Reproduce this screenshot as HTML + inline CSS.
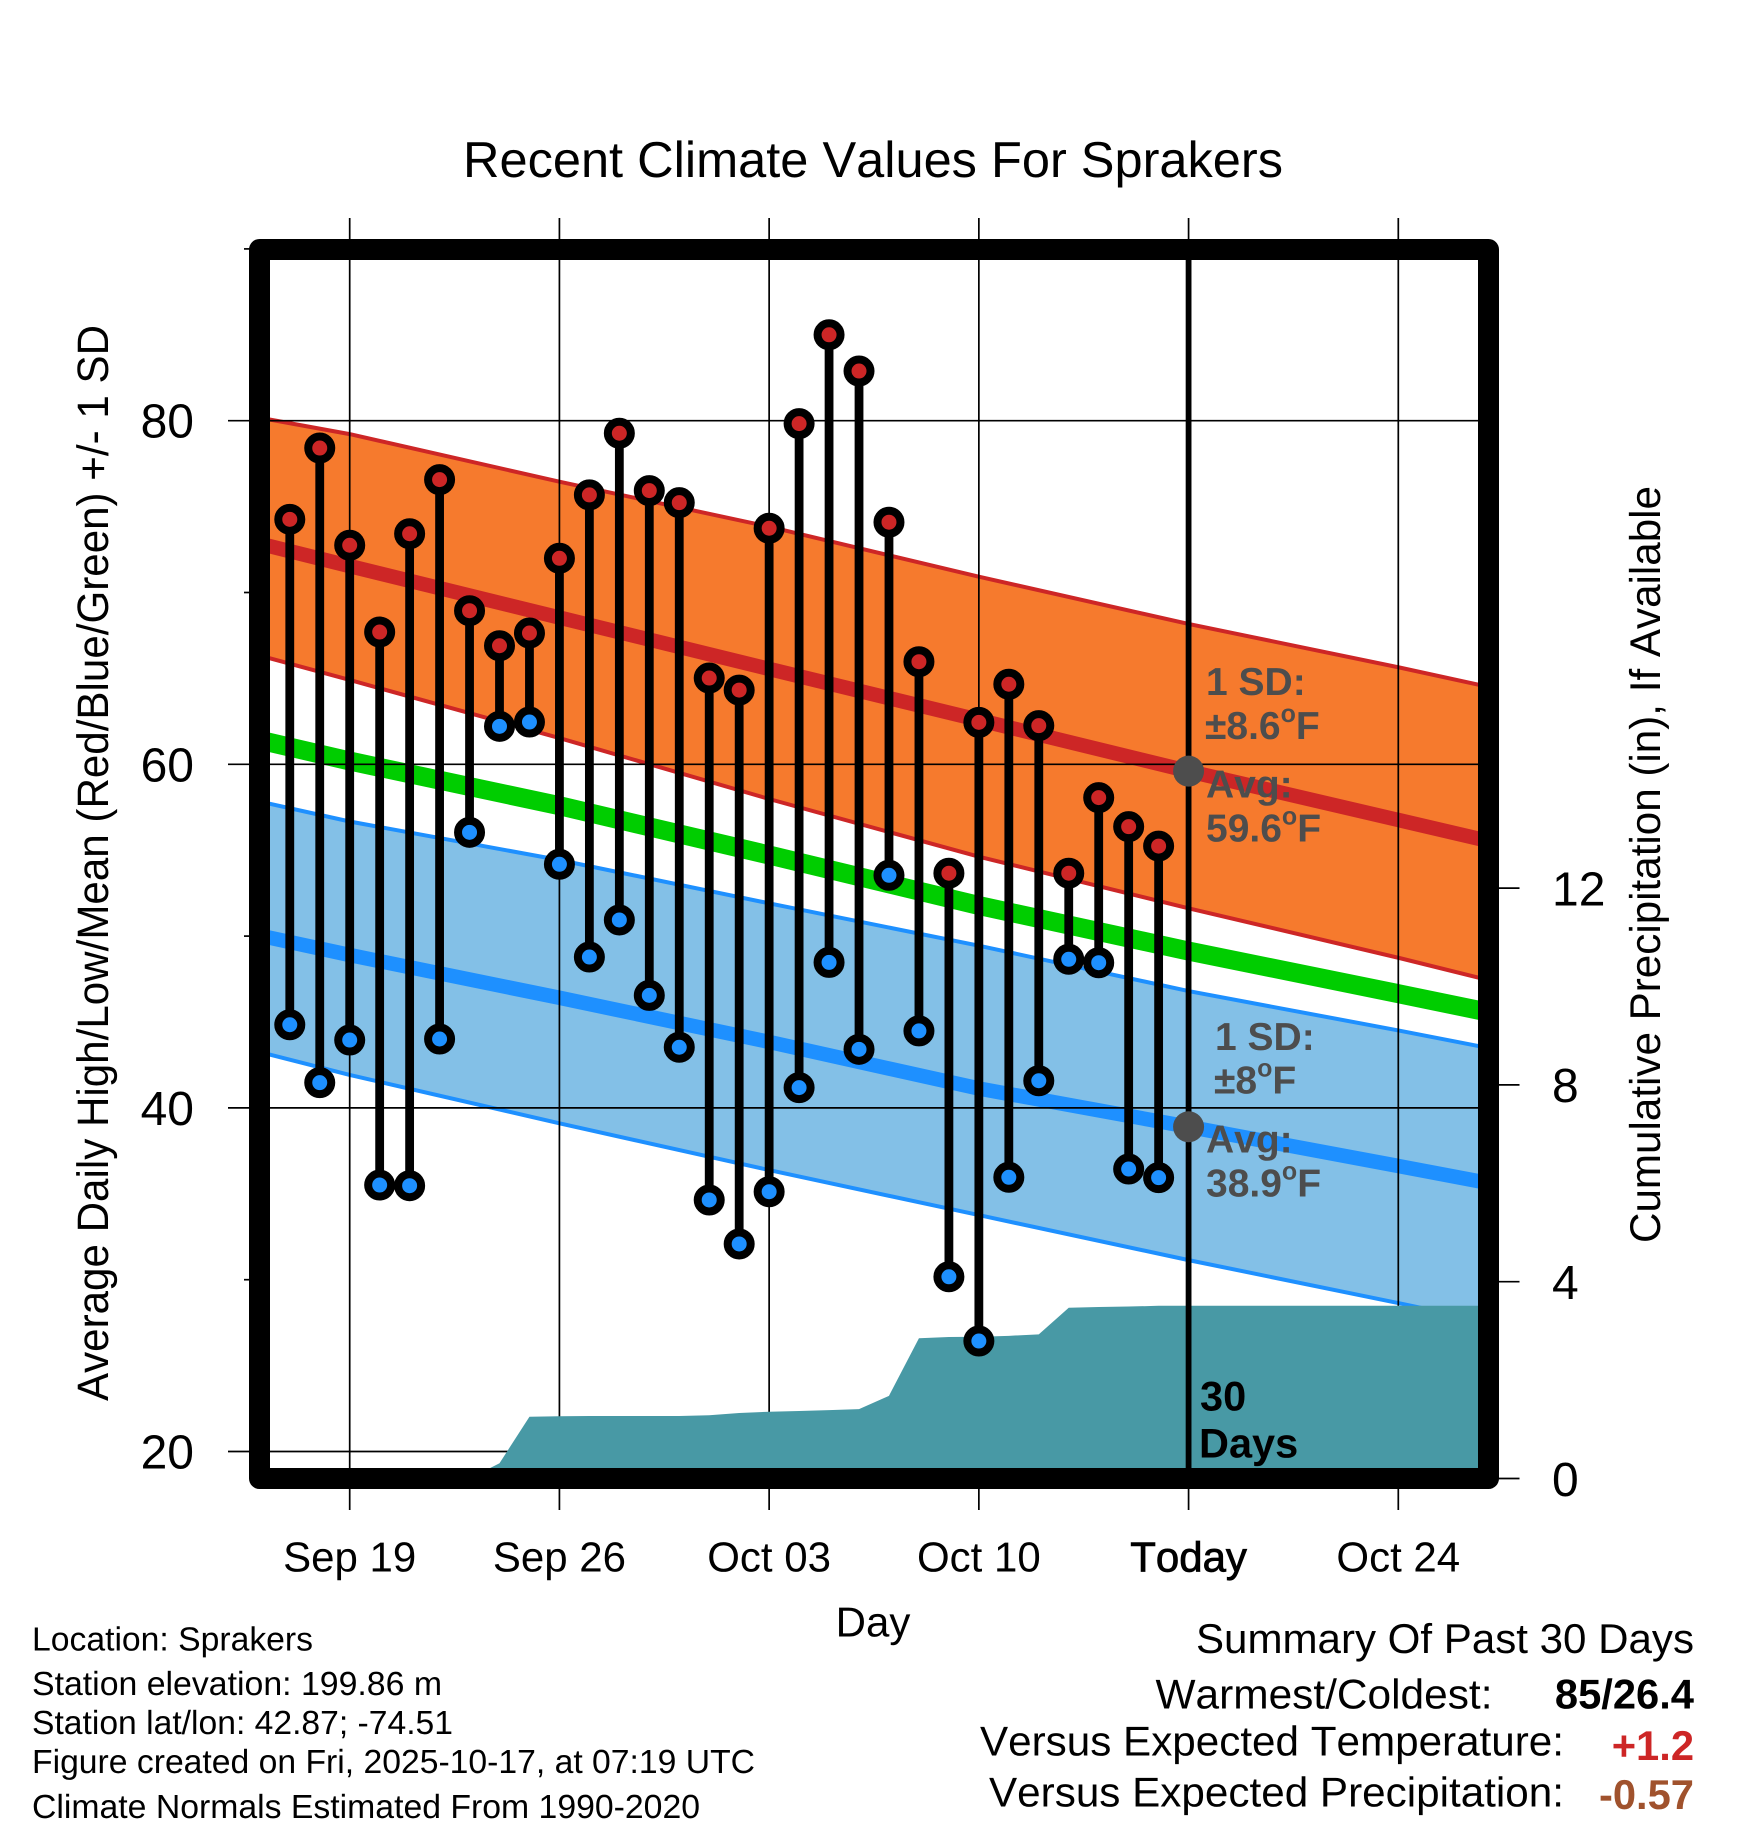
<!DOCTYPE html>
<html lang="en">
<head>
<meta charset="utf-8">
<title>Recent Climate Values For Sprakers</title>
<style>
html,body{margin:0;padding:0;background:#fff;width:1748px;height:1828px;overflow:hidden}
svg{display:block;text-rendering:geometricPrecision}
text{font-family:"Liberation Sans",Arial,sans-serif;fill:#000;font-kerning:none}
.anno{font-weight:bold;font-size:39px;fill:#4d4d4d}
.foot{font-size:33.4px}
.sum{font-size:41.7px}
</style>
</head>
<body>
<svg id="chart" xmlns="http://www.w3.org/2000/svg" width="1748" height="1828" viewBox="0 0 1748 1828">
  <rect x="0" y="0" width="1748" height="1828" fill="#ffffff"/>
  <g id="plot"></g>

  <text x="463" y="177" font-size="50.5" textLength="820" lengthAdjust="spacingAndGlyphs">Recent Climate Values For Sprakers</text>
  <text x="873" y="1636.5" font-size="42" text-anchor="middle">Day</text>
  <text transform="translate(108,1401) rotate(-90)" font-size="44" textLength="1076" lengthAdjust="spacingAndGlyphs">Average Daily High/Low/Mean (Red/Blue/Green) +/- 1 SD</text>
  <text transform="translate(1660,1243) rotate(-90)" font-size="43" textLength="757" lengthAdjust="spacingAndGlyphs">Cumulative Precipitation (in), If Available</text>

  <text class="anno" x="1206" y="695">1 SD:</text>
  <text class="anno" x="1205" y="739">±8.6<tspan font-size="25" dy="-17">o</tspan><tspan dy="17">F</tspan></text>
  <text class="anno" x="1206" y="797.5">Avg:</text>
  <text class="anno" x="1206" y="841.5">59.6<tspan font-size="25" dy="-17">o</tspan><tspan dy="17">F</tspan></text>
  <text class="anno" x="1215" y="1050">1 SD:</text>
  <text class="anno" x="1214" y="1093.5">±8<tspan font-size="25" dy="-17">o</tspan><tspan dy="17">F</tspan></text>
  <text class="anno" x="1206" y="1152.5">Avg:</text>
  <text class="anno" x="1206" y="1196.5">38.9<tspan font-size="25" dy="-17">o</tspan><tspan dy="17">F</tspan></text>
  <text x="1200" y="1410.5" font-size="41.5" font-weight="bold">30</text>
  <text x="1199" y="1457.5" font-size="41.5" font-weight="bold">Days</text>

  <text class="foot" x="32" y="1650.5" textLength="281" lengthAdjust="spacingAndGlyphs">Location: Sprakers</text>
  <text class="foot" x="32" y="1695" textLength="410" lengthAdjust="spacingAndGlyphs">Station elevation: 199.86 m</text>
  <text class="foot" x="32" y="1734" textLength="421" lengthAdjust="spacingAndGlyphs">Station lat/lon: 42.87; -74.51</text>
  <text class="foot" x="32" y="1773" textLength="723" lengthAdjust="spacingAndGlyphs">Figure created on Fri, 2025-10-17, at 07:19 UTC</text>
  <text class="foot" x="32" y="1818" textLength="668" lengthAdjust="spacingAndGlyphs">Climate Normals Estimated From 1990-2020</text>

  <text class="sum" x="1196" y="1653" textLength="498" lengthAdjust="spacingAndGlyphs">Summary Of Past 30 Days</text>
  <text class="sum" x="1155.5" y="1708.5" textLength="337" lengthAdjust="spacingAndGlyphs">Warmest/Coldest:</text>
  <text class="sum" x="1694" y="1708.5" text-anchor="end" font-weight="bold">85/26.4</text>
  <text class="sum" x="980" y="1755.5" textLength="584" lengthAdjust="spacingAndGlyphs">Versus Expected Temperature:</text>
  <text class="sum" x="1694" y="1760" text-anchor="end" font-weight="bold" style="fill:#cd2626">+1.2</text>
  <text class="sum" x="989" y="1806.5" textLength="575" lengthAdjust="spacingAndGlyphs">Versus Expected Precipitation:</text>
  <text class="sum" x="1694" y="1809" text-anchor="end" font-weight="bold" style="fill:#a0522d">-0.57</text>
</svg>
<script>
// ---- data ----
const obsDates = ['Sep 17','Sep 18','Sep 19','Sep 20','Sep 21','Sep 22','Sep 23','Sep 24','Sep 25','Sep 26','Sep 27','Sep 28','Sep 29','Sep 30','Oct 01','Oct 02','Oct 03','Oct 04','Oct 05','Oct 06','Oct 07','Oct 08','Oct 09','Oct 10','Oct 11','Oct 12','Oct 13','Oct 14','Oct 15','Oct 16'];
const dailyHigh = [74.26,78.41,72.75,67.70,73.42,76.57,68.94,66.90,67.64,71.99,75.68,79.27,75.93,75.23,65.02,64.32,73.74,79.83,85.0,82.89,74.09,65.97,53.66,62.44,64.66,62.25,53.66,58.06,56.37,55.24];
const dailyLow = [44.84,41.47,43.95,35.51,35.47,44.01,56.04,62.21,62.46,54.18,48.78,50.94,46.55,43.53,34.64,32.08,35.12,41.18,48.47,43.41,53.54,44.48,30.17,26.43,35.96,41.58,48.65,48.45,36.44,35.94];
const cumulativePrecip = [0,0,0,0,0,0,0,0.31,1.256,1.264,1.27,1.27,1.27,1.27,1.285,1.33,1.358,1.372,1.39,1.41,1.68,2.85,2.875,2.88,2.90,2.93,3.47,3.485,3.495,3.51];

const normalDates = ['Sep 16','Sep 19','Sep 26','Oct 03','Oct 10','Oct 17','Oct 24','Oct 27'];
const highPlusSd = [80.17,79.22,76.45,73.83,70.92,68.17,65.65,64.51];
const highNormal = [72.84,71.54,68.54,65.55,62.58,59.6,56.76,55.54];
const highMinusSd = [66.33,64.91,61.53,57.98,54.62,51.62,48.74,47.44];
const meanNormal = [61.41,60.19,57.59,54.72,51.78,49.13,46.65,45.57];
const lowPlusSd = [57.83,56.67,54.43,51.91,49.44,46.8,44.51,43.49];
const lowNormal = [50.03,48.9,46.41,43.84,41.13,38.9,36.62,35.63];
const lowMinusSd = [43.25,41.92,39.1,36.38,33.76,31.14,28.64,27.54];

const todayDate = 'Oct 17';
const todayHighAvg = 59.6;
const todayLowAvg = 38.9;
const axisEndDate = 'Oct 27';

const xTickDates = ['Sep 19','Sep 26','Oct 03','Oct 10','Oct 17','Oct 24'];
const xTickLabels = ['Sep 19','Sep 26','Oct 03','Oct 10','Today','Oct 24'];
const yMajorTicks = [80,60,40,20];
const yMinorTicks = [90,70,50,30];
const precipTicks = [12,8,4,0];

// ---- axis functions ----
function dayNumber(s){
  const parts = s.split(' ');
  const d = parseInt(parts[1],10);
  return parts[0] === 'Sep' ? d - 19 : d + 11;
}
function xScale(dateStr){ return 349.7 + 29.96 * dayNumber(dateStr); }
function yTemp(v){ return 420.7 + (80 - v) * 17.18; }
function yPrecip(p){ return 1478.5 - p * 49.2; }

const NS = 'http://www.w3.org/2000/svg';
const plot = document.getElementById('plot');
function make(tag, attrs, text){
  const el = document.createElementNS(NS, tag);
  for (const k in attrs) el.setAttribute(k, attrs[k]);
  if (text !== undefined) el.textContent = text;
  plot.appendChild(el);
  return el;
}
function pts(dates, values){
  return dates.map((d,i)=>xScale(d).toFixed(2)+','+yTemp(values[i]).toFixed(2));
}
function bandPoints(upper, lower){
  return pts(normalDates, upper).concat(pts(normalDates, lower).reverse()).join(' ');
}
function linePoints(values){ return pts(normalDates, values).join(' '); }

// ---- bands ----
let el;
el = make('polygon',{points:bandPoints(highPlusSd,highMinusSd),fill:'#f67a2d'});


el = make('polygon',{points:bandPoints(lowPlusSd,lowMinusSd),fill:'#83c0e7'});



el = make('polyline',{points:linePoints(highPlusSd),fill:'none',stroke:'#cd2626','stroke-width':4});


el = make('polyline',{points:linePoints(highMinusSd),fill:'none',stroke:'#cd2626','stroke-width':4});


el = make('polyline',{points:linePoints(lowPlusSd),fill:'none',stroke:'#1e90ff','stroke-width':4});


el = make('polyline',{points:linePoints(lowMinusSd),fill:'none',stroke:'#1e90ff','stroke-width':4});



// ---- normal lines ----
el = make('polyline',{points:linePoints(highNormal),fill:'none',stroke:'#cd2626','stroke-width':14.5});


el = make('polyline',{points:linePoints(meanNormal),fill:'none',stroke:'#00cd00','stroke-width':19});


el = make('polyline',{points:linePoints(lowNormal),fill:'none',stroke:'#1e90ff','stroke-width':14.5});



// ---- grid and ticks ----
xTickDates.forEach((d,i)=>{
  const x = xScale(d);
  const g = make('line',{x1:x,x2:x,y1:218,y2:1510,stroke:'#000','stroke-width':1.7});
  
  
  const t = make('text',{x:x,y:1571.5,'font-size':42,'text-anchor':'middle'},xTickLabels[i]);
  
  
  if (xTickLabels[i] === 'Today') { t.setAttribute('stroke','#000'); t.setAttribute('stroke-width','0.8'); }
});
yMajorTicks.forEach(v=>{
  const y = yTemp(v);
  const g = make('line',{x1:228,x2:1478,y1:y,y2:y,stroke:'#000','stroke-width':1.7});
  
  
  const t = make('text',{x:194,y:y+17,'font-size':48,'text-anchor':'end'},String(v));
  
  
});
yMinorTicks.forEach(v=>{
  const y = yTemp(v);
  const g = make('line',{x1:244,x2:252,y1:y,y2:y,stroke:'#000','stroke-width':1.7});
  
  
});
precipTicks.forEach(p=>{
  const y = yPrecip(p);
  const g = make('line',{x1:1496,x2:1519.5,y1:y,y2:y,stroke:'#000','stroke-width':1.7});
  
  
  const t = make('text',{x:1552,y:y+17.3,'font-size':48},String(p));
  
  
});

// ---- cumulative precipitation ----
const precipPts = obsDates.map((d,i)=>xScale(d).toFixed(2)+','+yPrecip(cumulativePrecip[i]).toFixed(2));
precipPts.push(xScale(axisEndDate).toFixed(2)+','+yPrecip(cumulativePrecip[cumulativePrecip.length-1]).toFixed(2));
precipPts.push(xScale(axisEndDate).toFixed(2)+','+yPrecip(0).toFixed(2));
precipPts.push(xScale(obsDates[0]).toFixed(2)+','+yPrecip(0).toFixed(2));
el = make('polygon',{points:precipPts.join(' '),fill:'#4899a5'});



// ---- today line ----
el = make('line',{x1:xScale(todayDate),x2:xScale(todayDate),y1:250,y2:1478,stroke:'#000','stroke-width':5.8});



// ---- daily stems ----
obsDates.forEach((d,i)=>{
  const x = xScale(d);
  const yH = yTemp(dailyHigh[i]);
  const yL = yTemp(dailyLow[i]);
  const s = make('line',{x1:x,x2:x,y1:yH,y2:yL,stroke:'#000','stroke-width':8.8});
  
  
  const h = make('circle',{cx:x,cy:yH,r:11.5,fill:'#cd2626',stroke:'#000','stroke-width':8});
  
  
  const l = make('circle',{cx:x,cy:yL,r:11.5,fill:'#1e90ff',stroke:'#000','stroke-width':8});
  
  
});

// ---- today average markers ----
el = make('circle',{cx:xScale(todayDate),cy:yTemp(todayHighAvg),r:15.5,fill:'#4d4d4d'});


el = make('circle',{cx:xScale(todayDate),cy:yTemp(todayLowAvg),r:15.5,fill:'#4d4d4d'});



// ---- plot frame ----
el = make('rect',{x:259.5,y:249.5,width:1229,height:1229,fill:'none',stroke:'#000','stroke-width':21,'stroke-linejoin':'round'});


</script>
</body>
</html>
